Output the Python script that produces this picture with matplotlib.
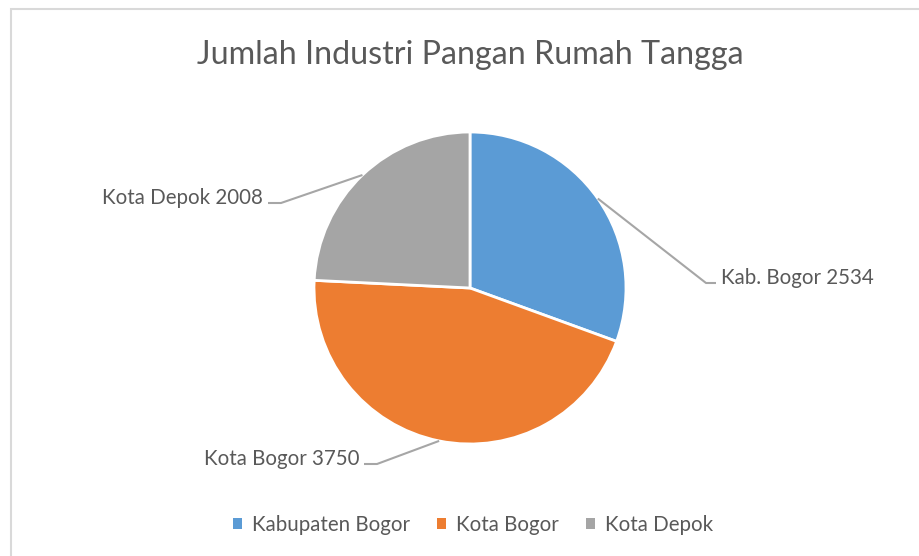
import numpy as np
import matplotlib.pyplot as plt
from matplotlib.patches import Patch, Rectangle

# data
categories = ['Kabupaten Bogor', 'Kota Bogor', 'Kota Depok']
short_labels = ['Kab. Bogor', 'Kota Bogor', 'Kota Depok']
values = [2534, 3750, 2008]
colors = ['#5B9BD5', '#ED7D31', '#A5A5A5']

plt.rcParams['font.family'] = ['Lato', 'DejaVu Sans']
text_col = '#595959'
line_col = '#A6A6A6'

W, H = 919, 556
fig = plt.figure(figsize=(W / 100, H / 100), dpi=100)
ax = fig.add_axes([0, 0, 1, 1])

cx, cy, r = 470, H - 288, 156
wedges, _ = ax.pie(values, colors=colors, startangle=90, counterclock=False,
                   center=(cx, cy), radius=r, frame=True,
                   wedgeprops=dict(edgecolor='white', linewidth=2))
ax.set_xlim(0, W)
ax.set_ylim(0, H)
ax.set_aspect('equal')
ax.axis('off')

# chart frame
ax.add_patch(Rectangle((11, -10), W + 20, H - 9 + 10, fill=False,
                       edgecolor='#D9D9D9', linewidth=1.5))

# label positions (elbow point, text side)
elbows = [(706, H - 283, 'left'), (377, H - 464, 'right'), (281, H - 203, 'right')]
for w, lab, v, (ex, ey, side) in zip(wedges, short_labels, values, elbows):
    ang = np.deg2rad((w.theta1 + w.theta2) / 2)
    sx, sy = cx + r * np.cos(ang), cy + r * np.sin(ang)
    hx = ex + 10 if side == 'left' else ex - 13
    ax.plot([sx, ex, hx], [sy, ey, ey], color=line_col, lw=1.5, solid_capstyle='butt')
    tx = hx + 5 if side == 'left' else hx - 5
    ax.text(tx, ey + 5, f'{lab} {v}', ha=side, va='center', fontsize=14.8, color=text_col)

ax.text(470, H - 55, 'Jumlah Industri Pangan Rumah Tangga', ha='center', va='center',
        fontsize=23.2, color=text_col)

handles = [Patch(facecolor=c, edgecolor='none') for c in colors]
fig.legend(handles, categories, loc='center', bbox_to_anchor=(473 / W, 1 - 525 / H),
           ncol=3, frameon=False, fontsize=14.8, labelcolor=text_col,
           handlelength=0.45, handleheight=0.45, handletextpad=0.5, columnspacing=1.3)

fig.savefig('out.png', dpi=100)
